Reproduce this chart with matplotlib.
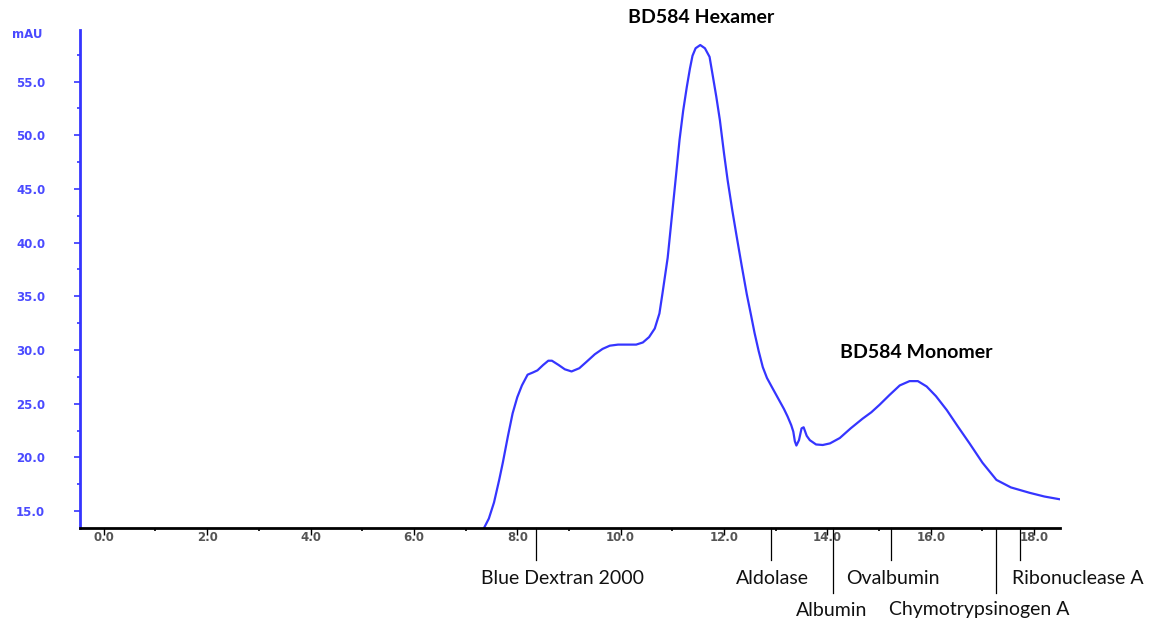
import numpy as np
import matplotlib.pyplot as plt
from matplotlib.ticker import MultipleLocator, FormatStrFormatter

# chromatogram trace (elution volume, mAU)
volume = [7.36, 7.45, 7.55, 7.65, 7.72, 7.82, 7.91, 8.00, 8.09, 8.20, 8.30, 8.39,
          8.50, 8.60, 8.67, 8.80, 8.92, 9.05, 9.20, 9.34, 9.50, 9.65, 9.79, 9.95,
          10.15, 10.30, 10.43, 10.55, 10.66, 10.75, 10.81, 10.91, 10.99, 11.07,
          11.14, 11.21, 11.28, 11.34, 11.39, 11.45, 11.54, 11.63, 11.72, 11.78,
          11.85, 11.92, 12.00, 12.07, 12.16, 12.24, 12.34, 12.44, 12.52, 12.59,
          12.67, 12.75, 12.83, 12.92, 13.00, 13.08, 13.16, 13.23, 13.30, 13.34,
          13.37, 13.40, 13.45, 13.50, 13.54, 13.60, 13.66, 13.78, 13.91, 14.05,
          14.24, 14.45, 14.68, 14.85, 15.01, 15.20, 15.40, 15.59, 15.75, 15.92,
          16.10, 16.31, 16.52, 16.75, 17.00, 17.27, 17.55, 17.91, 18.20, 18.49]
absorb = [13.45, 14.3, 15.8, 17.9, 19.5, 22.0, 24.1, 25.6, 26.7, 27.7, 27.9, 28.1,
          28.6, 29.0, 29.0, 28.6, 28.2, 28.0, 28.3, 28.9, 29.6, 30.1, 30.4, 30.5,
          30.5, 30.5, 30.7, 31.2, 32.0, 33.4, 35.3, 38.6, 42.4, 46.2,
          49.6, 52.3, 54.5, 56.2, 57.4, 58.1, 58.4, 58.1, 57.3, 55.6,
          53.6, 51.4, 48.3, 45.8, 43.0, 40.7, 37.9, 35.2, 33.3, 31.6,
          29.9, 28.4, 27.4, 26.6, 25.9, 25.2, 24.5, 23.8, 23.0, 22.4,
          21.5, 21.1, 21.6, 22.7, 22.8, 22.0, 21.6, 21.2, 21.15, 21.3,
          21.8, 22.7, 23.6, 24.2, 24.9, 25.8, 26.7, 27.1, 27.1, 26.6,
          25.7, 24.4, 22.9, 21.3, 19.5, 17.9, 17.2, 16.7, 16.35, 16.1]

# calibration standards: name, marker position, label position, row
standards = ['Blue Dextran 2000', 'Aldolase', 'Albumin', 'Ovalbumin',
             'Chymotrypsinogen A', 'Ribonuclease A']
std_pos = [8.36, 12.90, 14.10, 15.24, 17.27, 17.72]
std_label_x = [8.88, 12.94, 14.08, 15.26, 16.94, 18.84]
std_row = [0, 0, 1, 0, 1, 0]

peaks = ['BD584 Hexamer', 'BD584 Monomer']
peak_x = [11.55, 15.72]
peak_y = [60.95, 29.8]

blue = '#3535ff'

fig = plt.figure(figsize=(11.52, 6.25), dpi=100)
ax = fig.add_axes([80/1152, 97/625, 980/1152, 498/625])

ax.plot(volume, absorb, color=blue, lw=1.6)
ax.set_xlim(-0.46, 18.5)
ax.set_ylim(13.42, 59.8)

for s in ['top', 'right']:
    ax.spines[s].set_visible(False)
ax.spines['left'].set_color(blue)
ax.spines['left'].set_linewidth(2)
ax.spines['bottom'].set_color('black')
ax.spines['bottom'].set_linewidth(2)

ax.yaxis.set_major_locator(MultipleLocator(5))
ax.yaxis.set_minor_locator(MultipleLocator(2.5))
ax.yaxis.set_major_formatter(FormatStrFormatter('%.1f'))
ax.xaxis.set_major_locator(MultipleLocator(2))
ax.xaxis.set_minor_locator(MultipleLocator(1))
ax.xaxis.set_major_formatter(FormatStrFormatter('%.1f'))

ax.tick_params(axis='y', which='major', colors=blue, length=4, width=1.2,
               pad=21, labelsize=8.5)
ax.tick_params(axis='y', which='minor', colors=blue, length=2, width=1.2)
ax.tick_params(axis='x', which='major', colors='black', length=5, width=1,
               pad=-3, labelsize=8.5)
ax.tick_params(axis='x', which='minor', colors='black', length=2, width=1.2)
for lab in ax.get_yticklabels() + ax.get_xticklabels():
    lab.set_fontfamily('DejaVu Sans')
    lab.set_fontweight('bold')
for lab in ax.get_yticklabels():
    lab.set_color('#4a4aff')
for lab in ax.get_xticklabels():
    lab.set_color('#555555')

fig.text(12/1152, 1 - 35/625, 'mAU', color='#4a4aff', fontsize=8.5,
         fontweight='bold', family='DejaVu Sans', ha='left', va='center')

# standard markers below the axis
trans = ax.get_xaxis_transform()
for name, xp, xl, row in zip(standards, std_pos, std_label_x, std_row):
    y_end = -32/498 if row == 0 else -65/498
    ax.plot([xp, xp], [0, y_end], color='black', lw=0.9,
            transform=trans, clip_on=False)
    y_txt = -50/498 if row == 0 else -82/498
    ax.text(xl, y_txt, name, transform=trans, ha='center', va='center',
            fontsize=14, family='Lato', color='#111111')

for name, xp, yp in zip(peaks, peak_x, peak_y):
    ax.text(xp, yp, name, ha='center', va='center', fontsize=14,
            family='Lato', fontweight='bold', color='black', clip_on=False)

fig.savefig('out.png', dpi=100)
